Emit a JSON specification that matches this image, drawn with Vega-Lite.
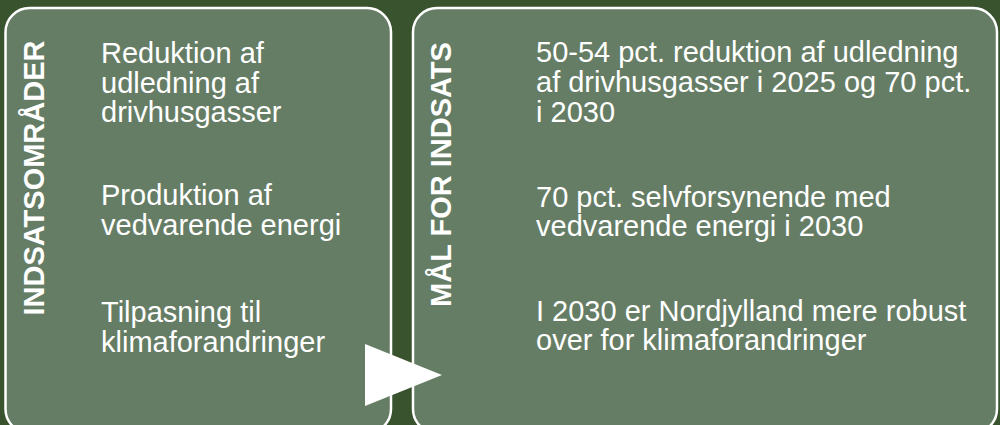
{
  "$schema": "https://vega.github.io/schema/vega-lite/v6.json",
  "width": 1000,
  "height": 425,
  "padding": 0,
  "autosize": {"type": "none"},
  "background": "#3a532f",
  "config": {"view": {"stroke": null}, "font": "Liberation Sans"},
  "datasets": {
    "boxes": [
      {"box": "Indsatsområder", "x": 5.5, "x2": 391, "y": 8, "y2": 433},
      {"box": "Mål for indsats", "x": 413, "x2": 997, "y": 8, "y2": 433}
    ],
    "headers": [
      {"label": "INDSATSOMRÅDER", "x": 43.5, "y": 178},
      {"label": "MÅL FOR INDSATS", "x": 450.5, "y": 174.5}
    ],
    "lines": [
      {"text": "Reduktion af", "x": 101, "y": 62.5},
      {"text": "udledning af", "x": 101, "y": 92.5},
      {"text": "drivhusgasser", "x": 101, "y": 122},
      {"text": "Produktion af", "x": 101, "y": 205},
      {"text": "vedvarende energi", "x": 101, "y": 234.5},
      {"text": "Tilpasning til", "x": 101, "y": 321.5},
      {"text": "klimaforandringer", "x": 101, "y": 351.5},
      {"text": "50-54 pct. reduktion af udledning", "x": 536, "y": 62},
      {"text": "af drivhusgasser i 2025 og 70 pct.", "x": 536, "y": 92},
      {"text": "i 2030", "x": 536, "y": 121.5},
      {"text": "70 pct. selvforsynende med", "x": 536, "y": 206.5},
      {"text": "vedvarende energi i 2030", "x": 536, "y": 236},
      {"text": "I 2030 er Nordjylland mere robust", "x": 536, "y": 320.5},
      {"text": "over for klimaforandringer", "x": 536, "y": 350}
    ],
    "arrow": [
      {"x": 403.5, "y": 375}
    ]
  },
  "layer": [
    {
      "data": {"name": "boxes"},
      "mark": {"type": "rect", "fill": "#667d65", "stroke": "#ffffff", "strokeWidth": 2.5, "cornerRadius": 24},
      "encoding": {
        "x": {"field": "x", "type": "quantitative", "scale": {"domain": [0, 1000], "nice": false, "zero": false}, "axis": null},
        "x2": {"field": "x2"},
        "y": {"field": "y", "type": "quantitative", "scale": {"domain": [0, 425], "nice": false, "zero": false, "reverse": true}, "axis": null},
        "y2": {"field": "y2"}
      }
    },
    {
      "data": {"name": "headers"},
      "mark": {"type": "text", "angle": 270, "align": "center", "baseline": "alphabetic", "fontSize": 29, "fontWeight": "bold", "color": "#ffffff"},
      "encoding": {
        "x": {"field": "x", "type": "quantitative"},
        "y": {"field": "y", "type": "quantitative"},
        "text": {"field": "label"}
      }
    },
    {
      "data": {"name": "lines"},
      "mark": {"type": "text", "align": "left", "baseline": "alphabetic", "fontSize": 29, "color": "#ffffff"},
      "encoding": {
        "x": {"field": "x", "type": "quantitative"},
        "y": {"field": "y", "type": "quantitative"},
        "text": {"field": "text"}
      }
    },
    {
      "data": {"name": "arrow"},
      "mark": {"type": "point", "shape": "M-1,-0.805L1,0L-1,0.805Z", "filled": true, "fill": "#ffffff", "opacity": 1, "size": 5929, "strokeWidth": 0},
      "encoding": {
        "x": {"field": "x", "type": "quantitative"},
        "y": {"field": "y", "type": "quantitative"}
      }
    }
  ]
}
